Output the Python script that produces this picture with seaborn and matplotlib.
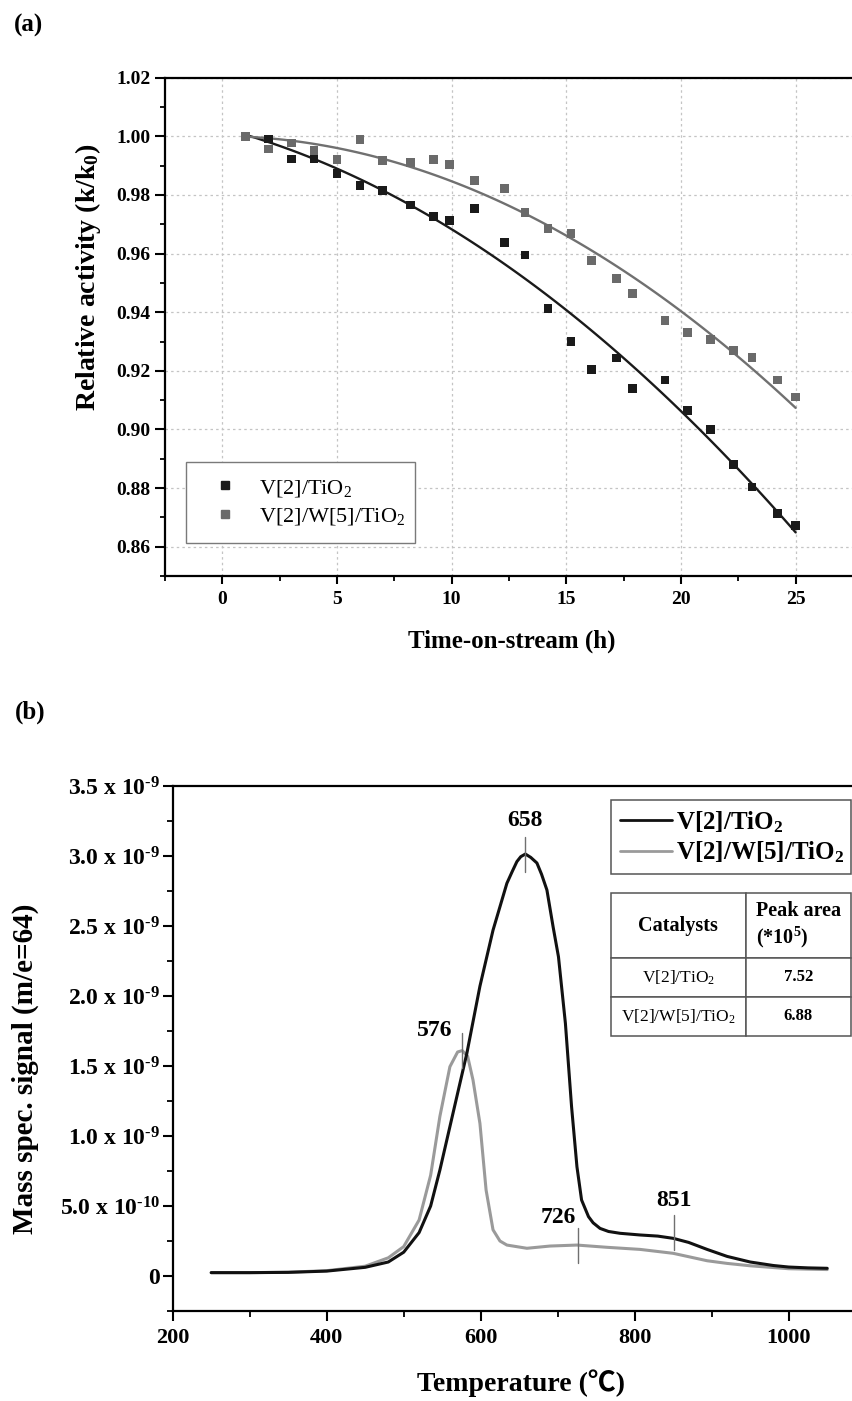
import numpy as np
import pandas as pd
import matplotlib
matplotlib.use("Agg")
import matplotlib.pyplot as plt
import seaborn as sns
from matplotlib.ticker import MultipleLocator, FixedLocator, FuncFormatter, FormatStrFormatter
from matplotlib.lines import Line2D
from matplotlib.font_manager import FontProperties

# ---------------- data : panel (a) ----------------
hours = [1, 2, 3, 4, 5, 6, 7, 8.2, 9.2, 9.9, 11, 12.3, 13.2, 14.2, 15.2, 16.1,
         17.2, 17.9, 19.3, 20.3, 21.3, 22.3, 23.1, 24.2, 25]
act_v = [1.000, 0.9991, 0.9923, 0.9923, 0.9872, 0.9832, 0.9816, 0.9766, 0.9726, 0.9714,
         0.9753, 0.9638, 0.9595, 0.9412, 0.9299, 0.9205, 0.9244, 0.9140, 0.9169, 0.9064,
         0.8999, 0.8881, 0.8804, 0.8714, 0.8673]
act_vw = [1.000, 0.9957, 0.9977, 0.9951, 0.9922, 0.9989, 0.9917, 0.9911, 0.9920, 0.9903,
          0.9849, 0.9823, 0.9741, 0.9686, 0.9669, 0.9577, 0.9515, 0.9463, 0.9373, 0.9330,
          0.9308, 0.9270, 0.9246, 0.9169, 0.9111]
series_labels = ["V[2]/TiO$_\\mathregular{2}$", "V[2]/W[5]/TiO$_\\mathregular{2}$"]

# ---------------- data : panel (b) ----------------
temp_v = [250, 300, 350, 400, 450, 480, 500, 520, 535, 547, 564, 582, 599, 616, 634, 641,
          647, 652, 658, 665, 673, 679, 686, 694, 701, 710, 718, 725, 731, 740, 746, 755,
          766, 781, 807, 830, 850, 870, 894, 920, 950, 980, 1000, 1025, 1050]
sig_v = [0.024, 0.024, 0.026, 0.035, 0.062, 0.10, 0.17, 0.31, 0.50, 0.757, 1.162, 1.59,
         2.07, 2.47, 2.805, 2.89, 2.96, 2.995, 3.014, 2.99, 2.95, 2.87, 2.757, 2.495, 2.28,
         1.805, 1.21, 0.78, 0.543, 0.424, 0.38, 0.34, 0.318, 0.305, 0.293, 0.285, 0.269,
         0.24, 0.19, 0.14, 0.10, 0.075, 0.064, 0.058, 0.055]
temp_vw = [250, 300, 350, 400, 450, 480, 500, 520, 535, 547, 560, 570, 576, 583, 590, 599,
           607, 616, 625, 634, 660, 690, 725, 764, 807, 850, 894, 920, 950, 1000, 1050]
sig_vw = [0.024, 0.024, 0.027, 0.038, 0.07, 0.13, 0.21, 0.40, 0.72, 1.14, 1.495, 1.60,
          1.61, 1.57, 1.40, 1.09, 0.614, 0.33, 0.25, 0.221, 0.198, 0.214, 0.221, 0.205,
          0.19, 0.162, 0.109, 0.09, 0.073, 0.052, 0.046]
peak_labels = ["658", "576", "726", "851"]
peak_temps = [658, 576, 726, 851]
peak_series = ["v", "vw", "vw", "v"]

table_header = ["Catalysts", "Peak area\n(*10$^\\mathregular{5}$)"]
table_names = ["V[2]/TiO$_\\mathregular{2}$", "V[2]/W[5]/TiO$_\\mathregular{2}$"]
table_areas = ["7.52", "6.88"]

# ---------------- style ----------------
sns.set_theme(style="ticks")
plt.rcParams["font.family"] = ["Liberation Serif", "Noto Sans CJK SC"]
plt.rcParams["font.weight"] = "bold"
plt.rcParams["axes.labelweight"] = "bold"
plt.rcParams["mathtext.fontset"] = "custom"
plt.rcParams["mathtext.rm"] = "Liberation Serif:bold"
plt.rcParams["mathtext.bf"] = "Liberation Serif:bold"
plt.rcParams["mathtext.it"] = "Liberation Serif:italic:bold"
plt.rcParams["axes.edgecolor"] = "black"
plt.rcParams["xtick.color"] = "black"
plt.rcParams["ytick.color"] = "black"
plt.rcParams["text.color"] = "black"
plt.rcParams["axes.labelcolor"] = "black"

W, H = 852, 1401
fig = plt.figure(figsize=(W / 100, H / 100), dpi=100)

BLACK = "#1a1a1a"
GRAY_A = "#6a6a6a"
GRAY_B = "#9a9a9a"

# ================= panel (a) =================
a_left, a_top, a_bot = 165, 77.7, 576
a_xlim = (-2.5, 27.5)
a_w = 688
ax1 = fig.add_axes([a_left / W, 1 - a_bot / H, a_w / W, (a_bot - a_top) / H])

sns.regplot(x=hours, y=act_v, ax=ax1, order=2, ci=None, scatter=False, truncate=True,
            line_kws=dict(color=BLACK, lw=1.7, zorder=2))
sns.regplot(x=hours, y=act_vw, ax=ax1, order=2, ci=None, scatter=False, truncate=True,
            line_kws=dict(color="#707070", lw=1.7, zorder=2))
sns.scatterplot(x=hours, y=act_v, ax=ax1, marker="s", s=40, color=BLACK,
                edgecolor="none", linewidth=0, zorder=3)
sns.scatterplot(x=hours, y=act_vw, ax=ax1, marker="s", s=40, color=GRAY_A,
                edgecolor="none", linewidth=0, zorder=3)

ax1.set_xlim(*a_xlim)
ax1.set_ylim(0.85, 1.02)
ax1.xaxis.set_major_locator(MultipleLocator(5))
ax1.xaxis.set_minor_locator(MultipleLocator(2.5))
ax1.yaxis.set_major_locator(FixedLocator(np.round(np.arange(0.86, 1.021, 0.02), 2)))
ax1.yaxis.set_minor_locator(MultipleLocator(0.01))
ax1.yaxis.set_major_formatter(FormatStrFormatter("%.2f"))
ax1.set_axisbelow(True)
ax1.grid(True, which="major", color="#c4c4c4", linestyle=(0, (2, 2.5)), linewidth=0.9)
ax1.tick_params(which="major", direction="out", width=1.5, labelsize=14)
ax1.tick_params(axis="y", which="major", length=7, pad=3.5)
ax1.tick_params(axis="x", which="major", length=5.5, pad=5.5)
ax1.tick_params(which="minor", direction="out", width=1.3, length=3.5)
for s in ["left", "bottom", "top"]:
    ax1.spines[s].set_linewidth(1.6)
ax1.spines["right"].set_visible(False)

ax1.set_xlabel("Time-on-stream (h)", fontsize=18, va="center")
ax1.xaxis.set_label_coords(0.504, -0.1316)
ax1.set_ylabel("Relative activity (k/k$_\\mathregular{0}$)", fontsize=20, va="center")
ax1.yaxis.set_label_coords((88 - a_left) / a_w, 0.60)

h_a = [Line2D([], [], marker="s", linestyle="none", color=BLACK, markersize=6.2),
       Line2D([], [], marker="s", linestyle="none", color=GRAY_A, markersize=6.2)]
leg_a = ax1.legend(h_a, series_labels, loc="upper left",
                   bbox_to_anchor=((186 - a_left) / a_w, (a_bot - 558) / (a_bot - a_top),
                                   229 / a_w, 96 / (a_bot - a_top)),
                   mode="expand", borderaxespad=0, fancybox=False, framealpha=1,
                   edgecolor="#7a7a7a", borderpad=0.7, handlelength=2.1,
                   handletextpad=0.5, labelspacing=0.35,
                   prop=FontProperties(family="Liberation Serif", weight="normal", size=16))
leg_a.get_frame().set_linewidth(1.0)

fig.text(28 / W, 1 - 25 / H, "(a)", fontsize=18, fontweight="bold", ha="center", va="center")

# ================= panel (b) =================
b_left, b_top, b_bot = 172.7, 786, 1311
b_xlim = (200, 1090)
b_w = (b_xlim[1] - b_xlim[0]) * 0.77
ax2 = fig.add_axes([b_left / W, 1 - b_bot / H, b_w / W, (b_bot - b_top) / H])

yv = np.array(sig_v) * 1e-9
yvw = np.array(sig_vw) * 1e-9
sns.lineplot(x=temp_vw, y=yvw, ax=ax2, color=GRAY_B, lw=2.2, estimator=None, zorder=2)
sns.lineplot(x=temp_v, y=yv, ax=ax2, color="#111111", lw=2.2, estimator=None, zorder=3)

ax2.set_xlim(*b_xlim)
ax2.set_ylim(-0.25e-9, 3.5e-9)
ax2.xaxis.set_major_locator(MultipleLocator(200))
ax2.xaxis.set_minor_locator(MultipleLocator(100))
ax2.yaxis.set_major_locator(FixedLocator(np.arange(0, 8) * 0.5e-9))
ax2.yaxis.set_minor_locator(FixedLocator(np.arange(-1, 14, 2) * 0.25e-9))


def sig_fmt(v, pos):
    k = int(round(v * 1e10))
    if k == 0:
        return "0"
    if k < 10:
        return f"{k}.0 x 10$^{{\\text{{-10}}}}$"
    return f"{k / 10:.1f} x 10$^{{\\text{{-9}}}}$"


ax2.yaxis.set_major_formatter(FuncFormatter(sig_fmt))
ax2.tick_params(which="major", direction="out", width=1.5, length=7.5)
ax2.tick_params(axis="x", which="major", labelsize=16, pad=4.5)
ax2.tick_params(axis="y", which="major", labelsize=17, pad=1.5)
ax2.tick_params(which="minor", direction="out", width=1.3, length=4.2)
for s in ["left", "bottom", "top"]:
    ax2.spines[s].set_linewidth(1.6)
ax2.spines["right"].set_visible(False)
ax2.grid(False)

ax2.set_xlabel("Temperature (\u2103)", fontsize=20, va="center")
ax2.xaxis.set_label_coords((521 - b_left) / b_w, -(1383 - b_bot) / (b_bot - b_top))
ax2.set_ylabel("Mass spec. signal (m/e=64)", fontsize=21, va="center")
ax2.yaxis.set_label_coords((25 - b_left) / b_w, (b_bot - 1069) / (b_bot - b_top))

# peak markers and labels
curves = {"v": (temp_v, yv), "vw": (temp_vw, yvw)}
half = 0.125e-9
label_style = {
    "658": dict(ha="center", va="bottom", offset=(0, 4)),
    "576": dict(ha="right", va="center", offset=(-7, 2)),
    "726": dict(ha="right", va="bottom", offset=(-1, 0)),
    "851": dict(ha="center", va="bottom", offset=(0, 3)),
}
for lab, t, ser in zip(peak_labels, peak_temps, peak_series):
    tx, ty = curves[ser]
    yc = np.interp(t, tx, ty)
    if lab == "851":
        yc += 0.04e-9
    ax2.plot([t, t], [yc - half, yc + half], color="#707070", lw=1.0, zorder=4)
    st = label_style[lab]
    ax2.annotate(lab, xy=(t, yc + half), xytext=st["offset"], textcoords="offset points",
                 ha=st["ha"], va=st["va"], fontsize=17, fontweight="bold")

# legend (b)
h_b = [Line2D([], [], color="#111111", lw=2.0), Line2D([], [], color=GRAY_B, lw=2.0)]
leg_b = ax2.legend(h_b, series_labels, loc="upper left",
                   bbox_to_anchor=((611 - b_left) / b_w, (b_bot - 881.7) / (b_bot - b_top),
                                   240 / b_w, 81.7 / (b_bot - b_top)),
                   mode="expand", borderaxespad=0, fancybox=False, framealpha=1,
                   edgecolor="#555555", borderpad=0.36, handlelength=2.07,
                   handletextpad=0.15, labelspacing=0.2,
                   prop=FontProperties(family="Liberation Serif", weight="bold", size=18))
leg_b.get_frame().set_linewidth(1.1)

# peak-area table
cell_text = [table_header] + [[n, a] for n, a in zip(table_names, table_areas)]
tbl = ax2.table(cellText=cell_text, colWidths=[0.561, 0.439], cellLoc="center",
                bbox=[(611 - b_left) / b_w, (b_bot - 1036) / (b_bot - b_top),
                      240 / b_w, (1036 - 893) / (b_bot - b_top)])
tbl.auto_set_font_size(False)
row_h = [65.3, 38.4, 39.3]
for (r, c), cell in tbl.get_celld().items():
    cell.set_edgecolor("#555555")
    cell.set_linewidth(1.1)
    cell.set_facecolor("white")
    cell.set_height(row_h[r])
    txt = cell.get_text()
    if r == 0:
        txt.set_fontsize(14.5)
        txt.set_fontweight("bold")
        if c == 1:
            txt.set_ha("left")
            txt.set_multialignment("left")
    elif c == 0:
        txt.set_fontsize(12.5)
        txt.set_fontweight("normal")
    else:
        txt.set_fontsize(12)
        txt.set_fontweight("bold")
tbl.set_zorder(5)

fig.text(30 / W, 1 - 712 / H, "(b)", fontsize=18, fontweight="bold", ha="center", va="center")

fig.savefig("out.png", dpi=100)
